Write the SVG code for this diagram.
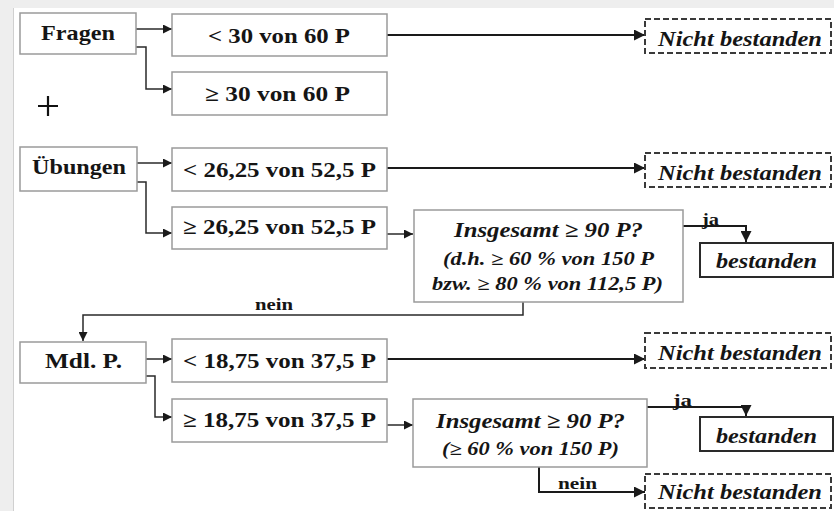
<svg xmlns="http://www.w3.org/2000/svg" width="834" height="511" viewBox="0 0 834 511">
<defs>
<marker id="ah" viewBox="0 0 10 10" refX="10" refY="5" markerWidth="9" markerHeight="9" markerUnits="userSpaceOnUse" orient="auto">
<path d="M0,0 L10,5 L0,10 z" fill="#1a1a1a"/>
</marker>
<marker id="ahb" viewBox="0 0 10 10" refX="10" refY="5" markerWidth="11" markerHeight="11" markerUnits="userSpaceOnUse" orient="auto">
<path d="M0,0 L10,5 L0,10 z" fill="#1a1a1a"/>
</marker>
<style>
.box{fill:#fff;stroke:#9a9a9a;stroke-width:1.5}
.dash{fill:#fff;stroke:#3a3a3a;stroke-width:2;stroke-dasharray:6,3}
.ok{fill:#fff;stroke:#2a2a2a;stroke-width:2}
.t{font-family:'Liberation Serif','DejaVu Serif','Times New Roman',serif;font-weight:bold;fill:#151515}
.i{font-family:'Liberation Serif','DejaVu Serif','Times New Roman',serif;font-weight:bold;font-style:italic;fill:#151515}
.c{fill:none;stroke:#2a2a2a;stroke-width:1.5}
.cl{fill:none;stroke:#1a1a1a;stroke-width:2}
</style>
</defs>
<rect x="0" y="0" width="834" height="511" fill="#eeeeee"/>
<rect x="13" y="8" width="821" height="503" fill="#ffffff"/>
<line x1="13.5" y1="8" x2="13.5" y2="511" stroke="#d0d0d0" stroke-width="1"/>

<g id="connectors">
<path class="c" d="M136,29 H172" marker-end="url(#ah)"/>
<path class="c" d="M136,47 H146 V89 H172" marker-end="url(#ah)"/>
<path class="cl" d="M387,35 H645" marker-end="url(#ahb)"/>
<path class="c" d="M137,163 H172" marker-end="url(#ah)"/>
<path class="c" d="M137,182 H146 V233 H172" marker-end="url(#ah)"/>
<path class="cl" d="M387,168 H645" marker-end="url(#ahb)"/>
<path class="c" d="M387,234 H413" marker-end="url(#ah)"/>
<path class="cl" d="M683,226 H746 V242" marker-end="url(#ahb)"/>
<path class="c" d="M523,302 V315 H83 V341" marker-end="url(#ah)"/>
<path class="c" d="M146,359 H172" marker-end="url(#ah)"/>
<path class="c" d="M146,376 H155 V417 H172" marker-end="url(#ah)"/>
<path class="cl" d="M387,359 H645" marker-end="url(#ahb)"/>
<path class="c" d="M387,425 H413" marker-end="url(#ah)"/>
<path class="cl" d="M647,407 H746 V416" marker-end="url(#ahb)"/>
<path class="cl" d="M539,467 V492 H645" marker-end="url(#ahb)"/>
<text class="t" x="702" y="225" style="font-size:17px" textLength="17" lengthAdjust="spacingAndGlyphs">ja</text>
<text class="t" x="255" y="310" style="font-size:17px" textLength="38" lengthAdjust="spacingAndGlyphs">nein</text>
<text class="t" x="673" y="406" style="font-size:17px" textLength="19" lengthAdjust="spacingAndGlyphs">ja</text>
<text class="t" x="558" y="489" style="font-size:17px" textLength="39" lengthAdjust="spacingAndGlyphs">nein</text>
</g>

<g id="plus">
<path d="M38,106 H58 M48,96 V116" stroke="#111" stroke-width="2.2" fill="none"/>
</g>

<g id="fragen">
<rect class="box" x="20" y="13" width="116" height="41"/>
<text class="t" x="41" y="40" style="font-size:21px" textLength="74" lengthAdjust="spacingAndGlyphs">Fragen</text>
</g>
<g id="f-lt">
<rect class="box" x="172" y="14" width="215" height="42"/>
<text class="t" x="208" y="43" style="font-size:21px" textLength="142" lengthAdjust="spacingAndGlyphs">&lt; 30 von 60 P</text>
</g>
<g id="f-ge">
<rect class="box" x="172" y="72" width="215" height="43"/>
<text class="t" x="205" y="101" style="font-size:21px" textLength="145" lengthAdjust="spacingAndGlyphs">≥ 30 von 60 P</text>
</g>
<g id="nb1">
<rect class="dash" x="645" y="19" width="186" height="34"/>
<text class="i" x="658" y="46" style="font-size:21px" textLength="164" lengthAdjust="spacingAndGlyphs">Nicht bestanden</text>
</g>

<g id="uebungen">
<rect class="box" x="20" y="147" width="117" height="44"/>
<text class="t" x="32" y="174" style="font-size:21px" textLength="94" lengthAdjust="spacingAndGlyphs">Übungen</text>
</g>
<g id="u-lt">
<rect class="box" x="172" y="148" width="215" height="43"/>
<text class="t" x="183" y="177" style="font-size:21px" textLength="193" lengthAdjust="spacingAndGlyphs">&lt; 26,25 von 52,5 P</text>
</g>
<g id="u-ge">
<rect class="box" x="172" y="207" width="215" height="42"/>
<text class="t" x="183" y="234" style="font-size:21px" textLength="193" lengthAdjust="spacingAndGlyphs">≥ 26,25 von 52,5 P</text>
</g>
<g id="nb2">
<rect class="dash" x="645" y="153" width="186" height="34"/>
<text class="i" x="658" y="180" style="font-size:21px" textLength="164" lengthAdjust="spacingAndGlyphs">Nicht bestanden</text>
</g>
<g id="q1">
<rect class="box" x="414" y="210" width="269" height="92"/>
<text class="i" x="454" y="237" style="font-size:21px" textLength="189" lengthAdjust="spacingAndGlyphs">Insgesamt ≥ 90 P?</text>
<text class="i" x="443" y="265" style="font-size:18px" textLength="211" lengthAdjust="spacingAndGlyphs">(d.h. ≥ 60 % von 150 P</text>
<text class="i" x="432" y="290" style="font-size:18px" textLength="231" lengthAdjust="spacingAndGlyphs">bzw. ≥ 80 % von 112,5 P)</text>
</g>
<g id="ok1">
<rect class="ok" x="700" y="243" width="133" height="34"/>
<text class="i" x="716" y="268" style="font-size:21px" textLength="101" lengthAdjust="spacingAndGlyphs">bestanden</text>
</g>

<g id="mdl">
<rect class="box" x="20" y="342" width="126" height="41"/>
<text class="t" x="45" y="368" style="font-size:21px" textLength="77" lengthAdjust="spacingAndGlyphs">Mdl. P.</text>
</g>
<g id="m-lt">
<rect class="box" x="172" y="339" width="215" height="43"/>
<text class="t" x="183" y="368" style="font-size:21px" textLength="193" lengthAdjust="spacingAndGlyphs">&lt; 18,75 von 37,5 P</text>
</g>
<g id="m-ge">
<rect class="box" x="172" y="399" width="215" height="43"/>
<text class="t" x="183" y="427" style="font-size:21px" textLength="193" lengthAdjust="spacingAndGlyphs">≥ 18,75 von 37,5 P</text>
</g>
<g id="nb3">
<rect class="dash" x="645" y="333" width="186" height="35"/>
<text class="i" x="658" y="360" style="font-size:21px" textLength="164" lengthAdjust="spacingAndGlyphs">Nicht bestanden</text>
</g>
<g id="q2">
<rect class="box" x="413" y="399" width="234" height="68"/>
<text class="i" x="436" y="428" style="font-size:21px" textLength="189" lengthAdjust="spacingAndGlyphs">Insgesamt ≥ 90 P?</text>
<text class="i" x="442" y="455" style="font-size:18px" textLength="177" lengthAdjust="spacingAndGlyphs">(≥ 60 % von 150 P)</text>
</g>
<g id="ok2">
<rect class="ok" x="700" y="417" width="133" height="34"/>
<text class="i" x="716" y="443" style="font-size:21px" textLength="101" lengthAdjust="spacingAndGlyphs">bestanden</text>
</g>
<g id="nb4">
<rect class="dash" x="645" y="474" width="186" height="34"/>
<text class="i" x="658" y="499" style="font-size:21px" textLength="164" lengthAdjust="spacingAndGlyphs">Nicht bestanden</text>
</g>
</svg>
